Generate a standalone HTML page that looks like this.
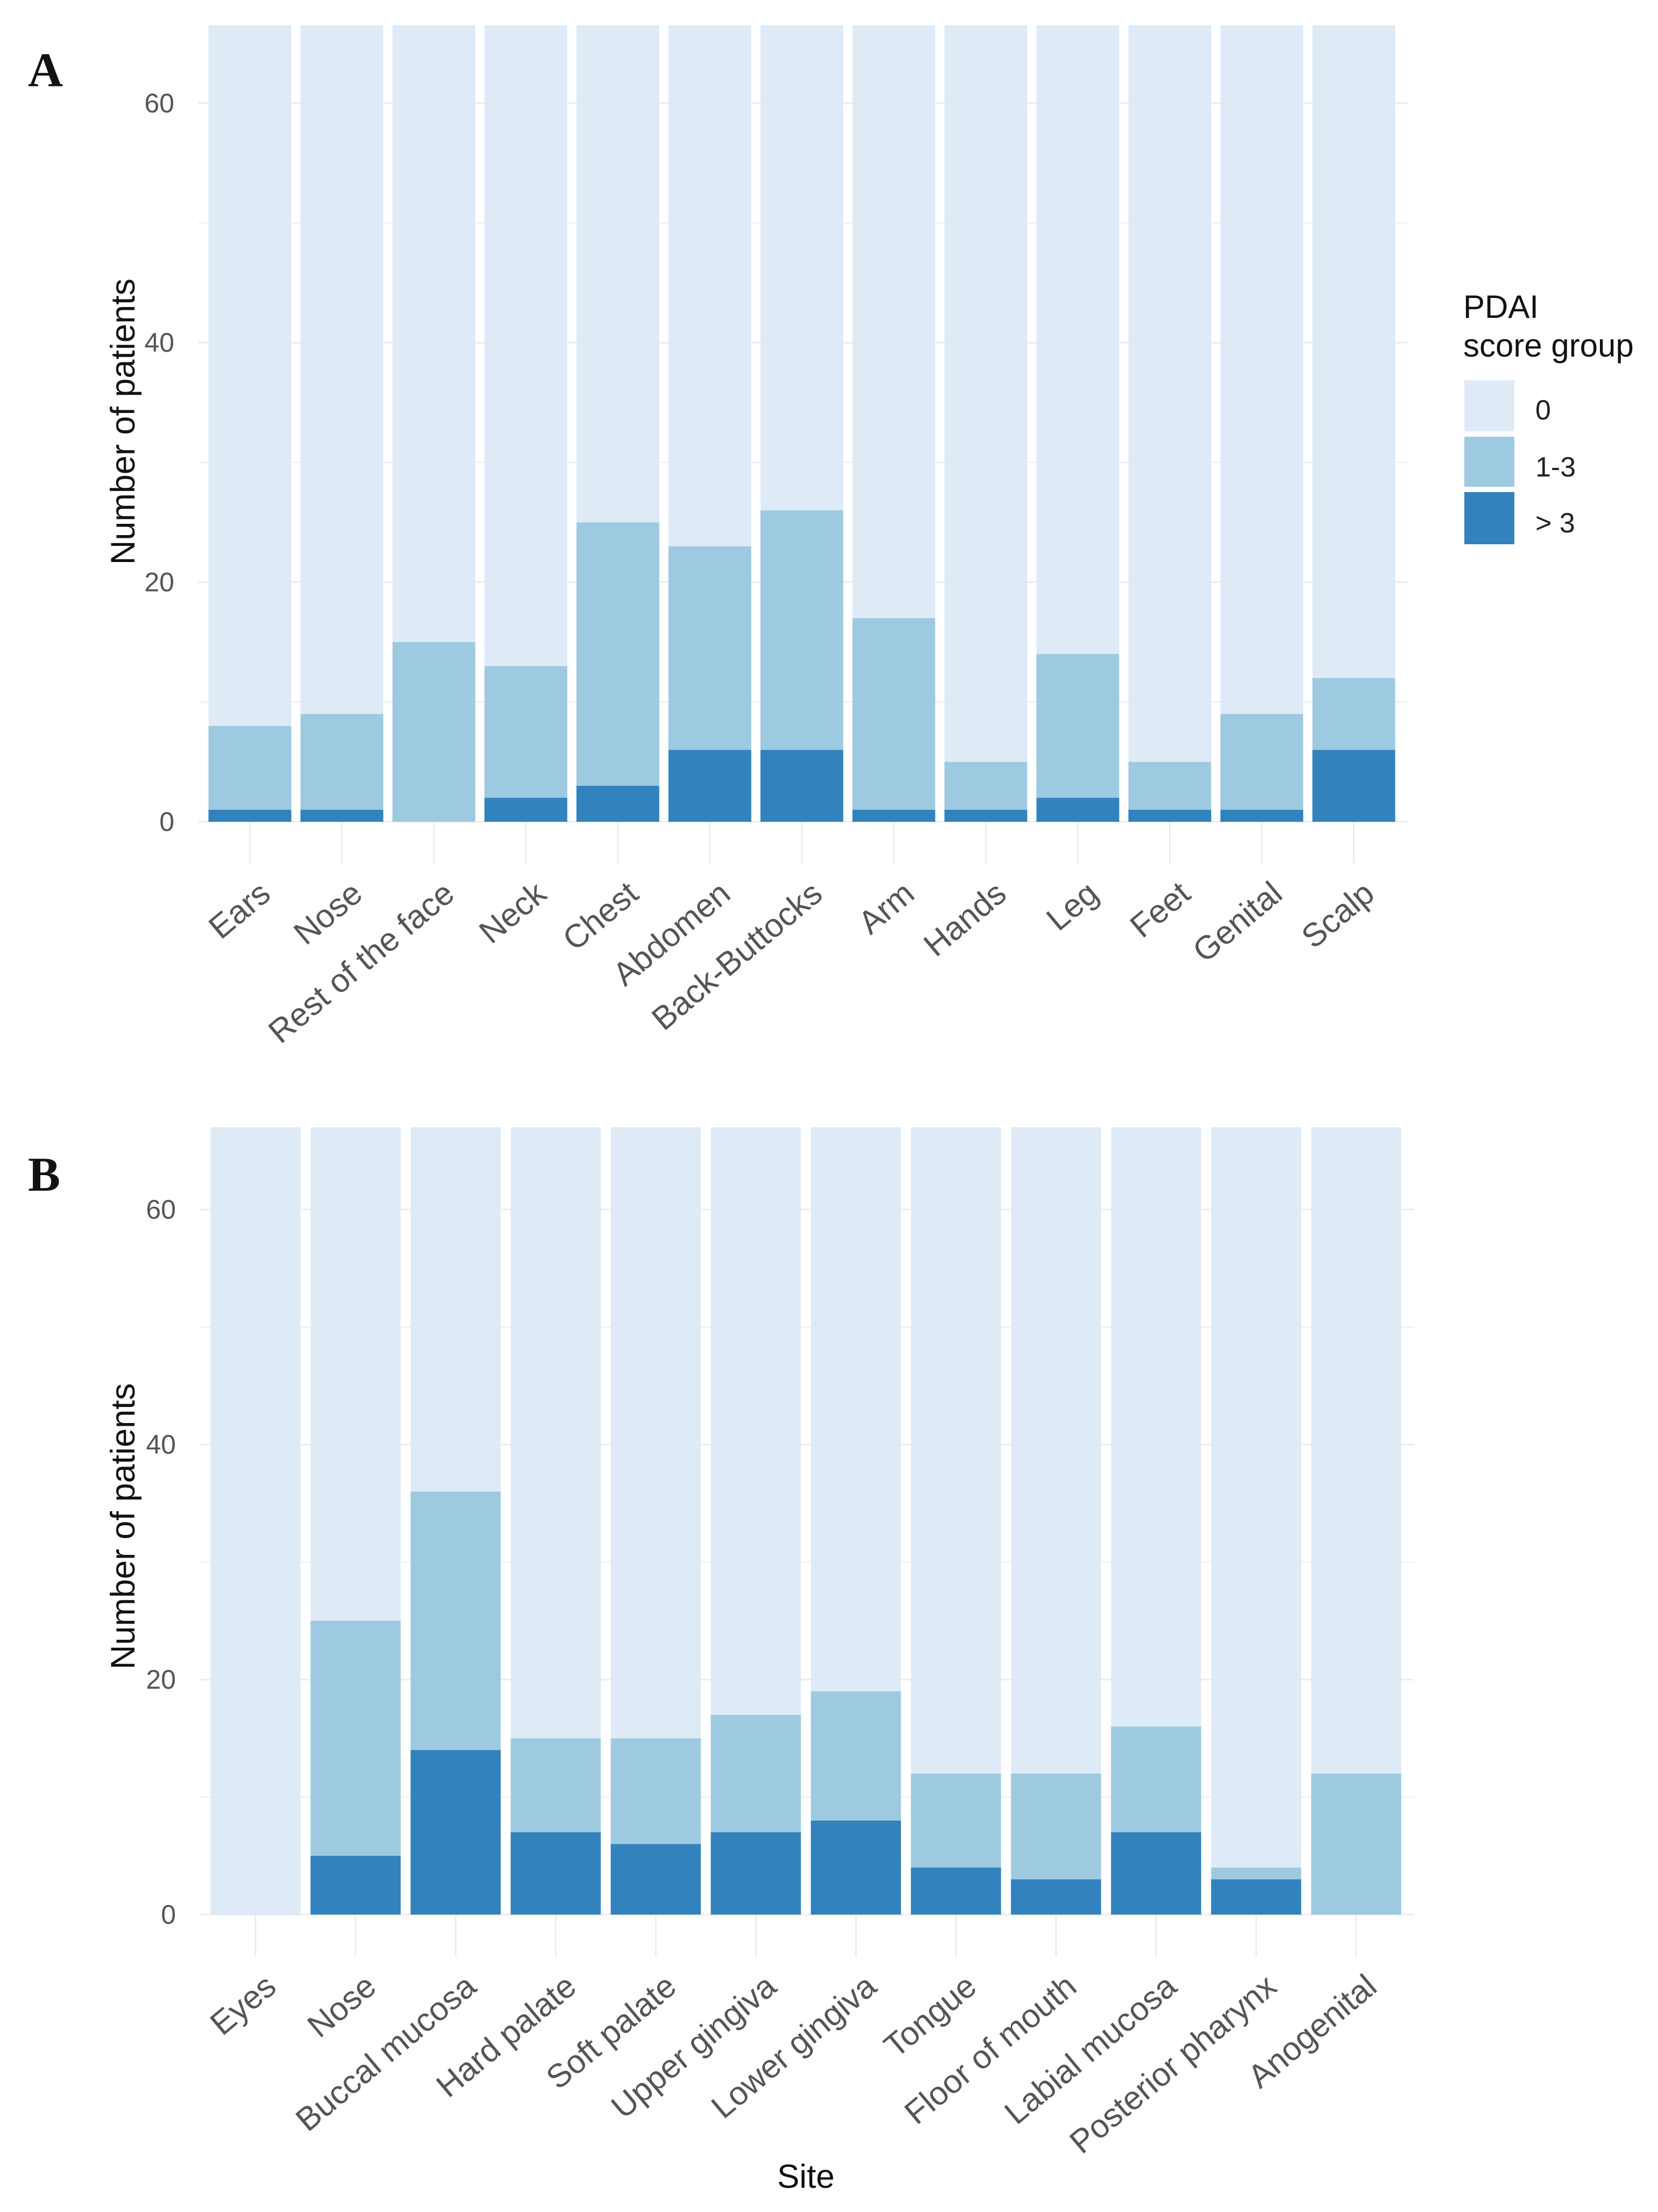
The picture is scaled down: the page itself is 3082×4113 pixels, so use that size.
<!DOCTYPE html>
<html><head><meta charset="utf-8"><style>
html,body{margin:0;padding:0;background:#fff;}
svg{display:block;}
text{font-family:"Liberation Sans",sans-serif;}
</style></head><body>
<svg id="fig" width="3082" height="4113" viewBox="0 0 3082 4113" xmlns="http://www.w3.org/2000/svg">
<rect width="3082" height="4113" fill="#fff"/>
<text x="52" y="160" style="font-family:'Liberation Serif',serif" font-weight="bold" font-size="90" fill="#111">A</text>
<text x="52" y="2214" style="font-family:'Liberation Serif',serif" font-weight="bold" font-size="90" fill="#111">B</text>
<g>
<text x="2720" y="591" font-size="60" fill="#111">PDAI</text>
<text x="2720" y="663" font-size="60" fill="#111">score group</text>
<rect x="2722" y="707" width="93" height="95" fill="#deebf7"/>
<rect x="2722" y="812" width="93" height="93" fill="#9ecae1"/>
<rect x="2722" y="915" width="93" height="97" fill="#3182bd"/>
<text x="2854" y="780" font-size="52" fill="#222">0</text>
<text x="2854" y="886" font-size="52" fill="#222">1-3</text>
<text x="2854" y="990" font-size="52" fill="#222">&gt; 3</text>
</g>
<text x="1498" y="4068" text-anchor="middle" font-size="62" fill="#111">Site</text>
</svg>
<script>
const catsA = ["Ears","Nose","Rest of the face","Neck","Chest","Abdomen","Back-Buttocks","Arm","Hands","Leg","Feet","Genital","Scalp"];
const midA = [8,9,15,13,25,23,26,17,5,14,5,9,12];
const highA = [1,1,0,2,3,6,6,1,1,2,1,1,6];
const totalA = 66.5;
const catsB = ["Eyes","Nose","Buccal mucosa","Hard palate","Soft palate","Upper gingiva","Lower gingiva","Tongue","Floor of mouth","Labial mucosa","Posterior pharynx","Anogenital"];
const midB = [0,25,36,15,15,17,19,12,12,16,4,12];
const highB = [0,5,14,7,6,7,8,4,3,7,3,0];
const totalB = 67;
const yTicks = [0,20,40,60];
const yGrid = [0,10,20,30,40,50,60];

const NS = "http://www.w3.org/2000/svg";
const svg = document.getElementById('fig');
function mk(tag, attrs, parent){const e=document.createElementNS(NS,tag);for(const k in attrs)e.setAttribute(k,attrs[k]);(parent||svg).appendChild(e);return e;}

function panel(name, cats, mid, high, total, cfg){
  const g = mk('g',{});
  
  
  const y = v => cfg.y0 - v*cfg.unit;
  const step = (cfg.x1-cfg.x0)/cats.length;
  const bw = step*0.9;
  const xc = i => cfg.x0 + step*(i+0.5);
  yGrid.forEach(v=>{
    const l = mk('line',{x1:cfg.x0-10,x2:cfg.x1+15,y1:y(v),y2:y(v),stroke:'#ececec','stroke-width':v%20===0?3:2},g);
    
    
  });
  cats.forEach((c,i)=>{
    const l = mk('line',{x1:xc(i),x2:xc(i),y1:cfg.top,y2:cfg.y0+78,stroke:'#ececec','stroke-width':3},g);
    
    
  });
  yTicks.forEach(v=>{
    const t = mk('text',{x:cfg.x0-55,y:y(v)+17,'text-anchor':'end','font-size':50,fill:'#555'},g);
    t.textContent = v;
    
    
  });
  cats.forEach((c,i)=>{
    const x = xc(i)-bw/2;
    const b0 = mk('rect',{x:x,y:y(total),width:bw,height:total*cfg.unit,fill:'#deebf7'},g);
    
    
    const b1 = mk('rect',{x:x,y:y(mid[i]),width:bw,height:mid[i]*cfg.unit,fill:'#9ecae1'},g);
    
    
    const b2 = mk('rect',{x:x,y:y(high[i]),width:bw,height:high[i]*cfg.unit,fill:'#3182bd'},g);
    
    
    const ax = xc(i)+42, ay = cfg.y0+140;
    const t = mk('text',{x:ax,y:ay,'text-anchor':'end','font-size':61,fill:'#555',transform:`rotate(-40 ${ax} ${ay})`},g);
    t.textContent = c;
    
    
  });
  const ty = mk('text',{x:0,y:0,'text-anchor':'middle','font-size':63,fill:'#111',transform:`translate(${cfg.titleX} ${cfg.titleY}) rotate(-90)`},g);
  ty.textContent = 'Number of patients';
  
  
}
panel('panel-a-chart', catsA, midA, highA, totalA, {x0:379,x1:2602,y0:1528,unit:22.27,top:46,titleX:250,titleY:784});
panel('panel-b-chart', catsB, midB, highB, totalB, {x0:382,x1:2614,y0:3560,unit:21.85,top:2099,titleX:250,titleY:2838});
</script>
</body></html>
